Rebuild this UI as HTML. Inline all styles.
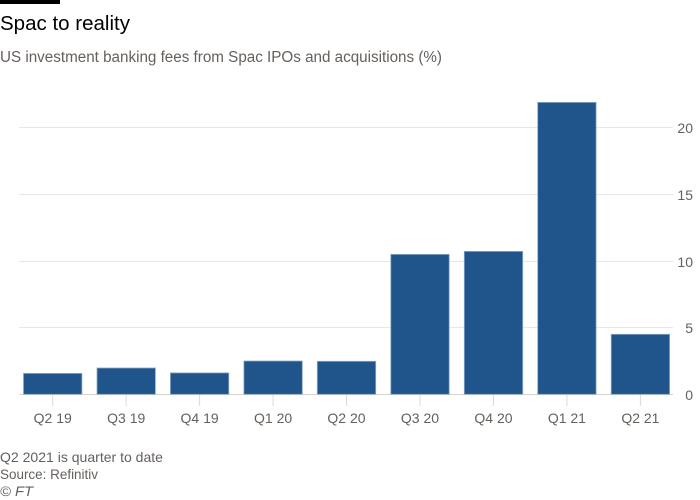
<!DOCTYPE html>
<html>
<head>
<meta charset="utf-8">
<style>
html,body{margin:0;padding:0;background:#fff;}
svg{display:block;}
text{font-family:"Liberation Sans",sans-serif;}
</style>
</head>
<body>
<svg width="700" height="500" viewBox="0 0 700 500" xmlns="http://www.w3.org/2000/svg">
<rect x="0" y="0" width="700" height="500" fill="#fff"/>
<rect x="0" y="0" width="60" height="4" fill="#000"/>
<text x="0" y="30" font-size="20.5" fill="#000" textLength="130" lengthAdjust="spacingAndGlyphs">Spac to reality</text>
<text x="0" y="62" font-size="15.5" fill="#66605c" textLength="442" lengthAdjust="spacingAndGlyphs">US investment banking fees from Spac IPOs and acquisitions (%)</text>

<!-- gridlines -->
<g stroke="#ece6e1" stroke-width="1">
<line x1="19" y1="127.5" x2="673" y2="127.5"/>
<line x1="19" y1="194.5" x2="673" y2="194.5"/>
<line x1="19" y1="261.5" x2="673" y2="261.5"/>
<line x1="19" y1="327.5" x2="673" y2="327.5"/>
</g>
<line x1="19" y1="394.5" x2="673" y2="394.5" stroke="#d9d2cc" stroke-width="1"/>

<!-- y labels -->
<g font-size="14" fill="#66605c" text-anchor="end">
<text x="693" y="133">20</text>
<text x="693" y="200">15</text>
<text x="693" y="267">10</text>
<text x="693" y="333">5</text>
<text x="693" y="400">0</text>
</g>

<!-- bars -->
<g fill="#20558b" stroke="#8aa8c8" stroke-width="0.8">
<rect x="23.5" y="373.4" width="58.4" height="20.9"/>
<rect x="97" y="368" width="58.4" height="26.3"/>
<rect x="170.4" y="372.9" width="58.4" height="21.4"/>
<rect x="243.9" y="361" width="58.4" height="33.3"/>
<rect x="317.3" y="361.3" width="58.4" height="33"/>
<rect x="390.8" y="254.4" width="58.4" height="139.9"/>
<rect x="464.3" y="251.4" width="58.4" height="142.9"/>
<rect x="537.7" y="102.4" width="58.4" height="291.9"/>
<rect x="611.2" y="334.3" width="58.4" height="60"/>
</g>

<!-- ticks -->
<g stroke="#ddd8d4" stroke-width="1">
<line x1="52.7" y1="395" x2="52.7" y2="406"/>
<line x1="126.2" y1="395" x2="126.2" y2="406"/>
<line x1="199.6" y1="395" x2="199.6" y2="406"/>
<line x1="273.1" y1="395" x2="273.1" y2="406"/>
<line x1="346.5" y1="395" x2="346.5" y2="406"/>
<line x1="420" y1="395" x2="420" y2="406"/>
<line x1="493.5" y1="395" x2="493.5" y2="406"/>
<line x1="566.9" y1="395" x2="566.9" y2="406"/>
<line x1="640.4" y1="395" x2="640.4" y2="406"/>
</g>

<!-- x labels -->
<g font-size="14" fill="#66605c" text-anchor="middle">
<text x="52.7" y="423">Q2 19</text>
<text x="126.2" y="423">Q3 19</text>
<text x="199.6" y="423">Q4 19</text>
<text x="273.1" y="423">Q1 20</text>
<text x="346.5" y="423">Q2 20</text>
<text x="420" y="423">Q3 20</text>
<text x="493.5" y="423">Q4 20</text>
<text x="566.9" y="423">Q1 21</text>
<text x="640.4" y="423">Q2 21</text>
</g>

<!-- footer -->
<g font-size="14" fill="#66605c">
<text x="0" y="462" textLength="163" lengthAdjust="spacingAndGlyphs">Q2 2021 is quarter to date</text>
<text x="0" y="479" textLength="98" lengthAdjust="spacingAndGlyphs">Source: Refinitiv</text>
<text x="0" y="496" font-style="italic" textLength="33" lengthAdjust="spacingAndGlyphs">© FT</text>
</g>
</svg>
</body>
</html>
